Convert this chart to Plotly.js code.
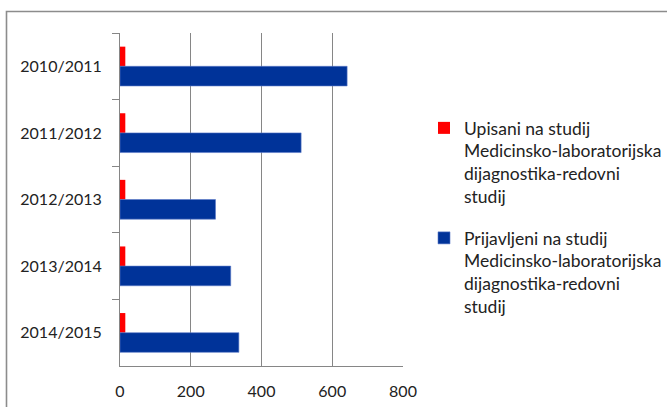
<!DOCTYPE html>
<html>
<head>
<meta charset="utf-8">
<script src="https://cdn.plot.ly/plotly-3.0.1.min.js"></script>
<style>html,body{margin:0;padding:0;background:#fff;}#chart{width:667px;height:407px;}</style>
</head>
<body>
<div id="chart"></div>
<script>
const categories = ["2010/2011", "2011/2012", "2012/2013", "2013/2014", "2014/2015"];
const upisani = [15, 15, 15, 15, 15];
const prijavljeni = [642, 512, 270, 313, 336];
const nameUpisani = "Upisani na studij<br>Medicinsko-laboratorijska<br>dijagnostika-redovni<br>studij";
const namePrijavljeni = "Prijavljeni na studij<br>Medicinsko-laboratorijska<br>dijagnostika-redovni<br>studij";
const xTicks = [0, 200, 400, 600, 800];

const W = 667, H = 407;
const m = {l: 120, r: 264, t: 33, b: 41, autoexpand: false};
const pw = W - m.l - m.r, ph = H - m.t - m.b;
const px = v => (v - m.l) / pw;
const py = v => 1 - (v - m.t) / ph;

const traces = [
  {type: 'bar', orientation: 'h', y: categories, x: upisani, name: nameUpisani,
   legendgroup: 'a', marker: {color: '#ff0000'}},
  {type: 'bar', orientation: 'h', y: categories, x: prijavljeni, name: namePrijavljeni,
   legendgroup: 'b', marker: {color: '#003399', line: {color: '#5a78c8', width: 0.6}}}
];

const layout = {
  width: W, height: H,
  margin: m,
  paper_bgcolor: '#ffffff', plot_bgcolor: '#ffffff',
  font: {family: 'Lato, "Open Sans", sans-serif', color: '#222', size: 16},
  barmode: 'group', bargap: 0.41, bargroupgap: 0,
  showlegend: true,
  legend: {x: px(424), y: py(110), xanchor: 'left', yanchor: 'top',
           font: {size: 17.5, color: '#222'}, valign: 'top',
           traceorder: 'grouped', tracegroupgap: 16, bgcolor: 'rgba(0,0,0,0)'},
  xaxis: {range: [0, 800], tickvals: xTicks, ticktext: xTicks.map(String),
          showgrid: true, gridcolor: '#868686', gridwidth: 1,
          zeroline: false, showline: true, linecolor: '#868686', linewidth: 1,
          ticks: '', ticklabelstandoff: 11, fixedrange: true},
  yaxis: {type: 'category', autorange: 'reversed', showgrid: false, zeroline: false,
          showline: true, linecolor: '#868686', linewidth: 1,
          ticks: 'outside', tickson: 'boundaries', ticklen: 7, tickcolor: '#868686',
          ticklabelstandoff: 14, fixedrange: true},
  shapes: [
    {type: 'rect', xref: 'paper', yref: 'paper', x0: px(6.5), x1: px(680), y0: py(420), y1: py(11.5),
     line: {color: '#8c8c8c', width: 1.6}, fillcolor: 'rgba(0,0,0,0)', layer: 'below'}
  ]
};

Plotly.newPlot('chart', traces, layout, {staticPlot: true, displayModeBar: false});
</script>
</body>
</html>
